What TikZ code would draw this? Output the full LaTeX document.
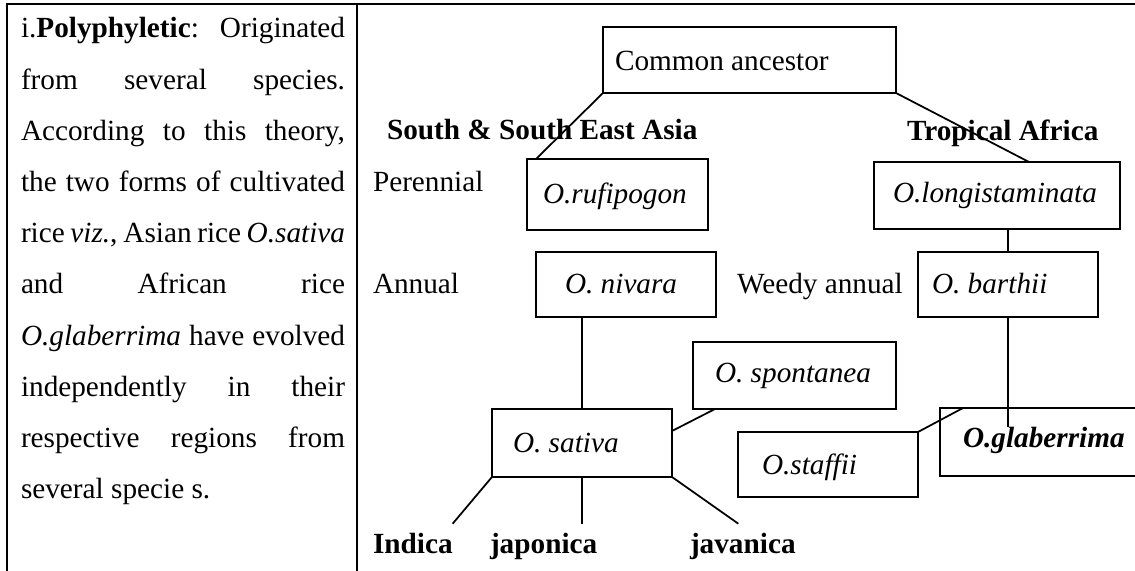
\documentclass[tikz,border=0pt]{standalone}
\usepackage{fontspec}
\setmainfont{Liberation Serif}
\tikzset{
  box/.style={draw, line width=0.7pt, rectangle, inner sep=0pt, outer sep=0pt, anchor=north west},
  lbl/.style={inner sep=0pt, outer sep=0pt, anchor=base west},
  conn/.style={line width=0.7pt},
  frame/.style={line width=0.8pt},
}
\newcommand{\jline}[1]{\makebox[129.6pt][s]{#1}}
\begin{document}
\begin{tikzpicture}[x=0.4pt, y=-0.4pt, font=\fontsize{11.7}{14}\selectfont]
\useasboundingbox (0,0) rectangle (1135,571);
% table frame
\draw[frame] (1145,4) -- (7,4) -- (7,580);
\draw[frame] (357,4) -- (357,580);

% left column text
\node[lbl] (l1) at (21,38.0) {\jline{i.\textbf{Polyphyletic}: Originated}};
\node[lbl] (l2) at (21,89.2) {\jline{from several species.}};
\node[lbl] (l3) at (21,140.4) {\jline{According to this theory,}};
\node[lbl] (l4) at (21,191.6) {\jline{the two forms of cultivated}};
\node[lbl] (l5) at (21,242.8) {\jline{rice \textit{viz.}, Asian rice \textit{O.sativa}}};
\node[lbl] (l6) at (21,294.0) {\jline{and African rice}};
\node[lbl] (l7) at (21,345.2) {\jline{\textit{O.glaberrima} have evolved}};
\node[lbl] (l8) at (21,396.4) {\jline{independently in their}};
\node[lbl] (l9) at (21,447.6) {\jline{respective regions from}};
\node[lbl] (l10) at (21,498.8) {several specie s.};

% region and habit labels
\node[lbl] (sea) at (387,140) {\textbf{South \& South East Asia}};
\node[lbl] (ta) at (907,141) {\textbf{Tropical Africa}};
\node[lbl] (per) at (373,192) {Perennial};
\node[lbl] (ann) at (373,294) {Annual};
\node[lbl] (wa) at (737,294) {Weedy annual};

% boxes
\node[box, minimum width=117.2pt, minimum height=26.4pt] (ca) at (603,27) {};
\node[lbl] (tca) at (615,71) {Common ancestor};
\node[box, minimum width=72.4pt, minimum height=28.4pt] (ruf) at (527,159) {};
\node[lbl] (truf) at (543,204) {\textit{O.rufipogon}};
\node[box, minimum width=98.4pt, minimum height=26.8pt] (lon) at (874,162) {};
\node[lbl] (tlon) at (893,203) {\textit{O.longistaminata}};
\node[box, minimum width=72pt, minimum height=26pt] (niv) at (536,252) {};
\node[lbl] (tniv) at (565,294) {\textit{O. nivara}};
\node[box, minimum width=72pt, minimum height=26pt] (bar) at (918,252) {};
\node[lbl] (tbar) at (932,294) {\textit{O. barthii}};
\node[box, minimum width=81.2pt, minimum height=26.8pt] (spo) at (693,342) {};
\node[lbl] (tspo) at (715,383) {\textit{O. spontanea}};
\node[box, minimum width=72pt, minimum height=27.2pt] (sat) at (492,409) {};
\node[lbl] (tsat) at (513,453) {\textit{O. sativa}};
\node[box, minimum width=72pt, minimum height=26pt] (sta) at (738,432) {};
\node[lbl] (tsta) at (762,475) {\textit{O.staffii}};
\node[box, minimum width=80pt, minimum height=27.2pt] (gla) at (940,408) {};
\node[lbl] (tgla) at (963,448) {\textbf{\textit{O.glaberrima}}};

% bottom labels
\node[lbl] (ind) at (373,554) {\textbf{Indica}};
\node[lbl] (jap) at (490,554) {\textbf{japonica}};
\node[lbl] (jav) at (690,554) {\textbf{javanica}};

% connectors
\draw[conn] (ca.south west) -- ([xshift=3.6pt]ruf.north west);
\draw[conn] (ca.south east) -- ([xshift=-36.4pt]lon.north east);
\draw[conn] (bar.north) -- (bar.north |- lon.south);
\coordinate (gtop) at (bar.south |- gla.north);
\draw[conn] (bar.south) -- ([yshift=-7.6pt]gtop);
\draw[conn] ([xshift=8.8pt]spo.south west) -- ([yshift=-8.8pt]sat.north east);
\draw[conn] (sta.north east) -- ([xshift=9.2pt]gla.north west);
\draw[conn] (niv.south -| sat.north) -- (sat.north);
\draw[conn] (sat.south west) -- ([yshift=4pt]ind.north east);
\coordinate (jtop) at (sat.south |- jap.north);
\draw[conn] (sat.south) -- ([yshift=4pt]jtop);
\draw[conn] (sat.south east) -- ([yshift=4pt,xshift=-1.8pt]jav.north);
\end{tikzpicture}
\end{document}
